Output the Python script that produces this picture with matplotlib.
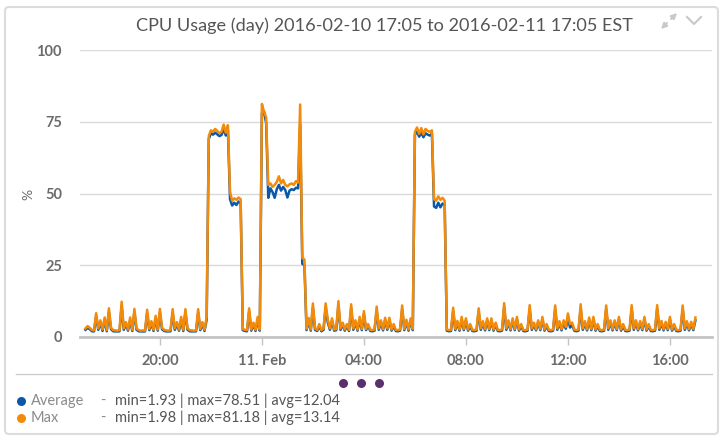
import matplotlib
matplotlib.use("Agg")
import matplotlib.pyplot as plt
from matplotlib.patches import FancyBboxPatch
import pandas as pd

TITLE = "CPU Usage (day) 2016-02-10 17:05 to 2016-02-11 17:05 EST"
START = "2016-02-10 17:05"

# 5 minute samples, one hour per row
max_cpu = [
    3.0, 3.8, 3.2, 2.4, 2.3, 8.3, 3.0, 5.8, 2.6, 6.8, 2.4, 10.0,
    3.2, 2.4, 2.3, 2.2, 2.4, 12.3, 3.0, 5.2, 2.6, 6.8, 2.5, 9.8,
    3.0, 2.4, 2.2, 2.3, 2.2, 9.5, 2.8, 5.5, 2.5, 7.4, 2.6, 9.8,
    3.2, 2.5, 2.3, 2.2, 2.4, 9.7, 3.0, 5.2, 2.6, 7.0, 2.5, 9.7,
    3.0, 2.4, 2.3, 2.2, 2.3, 9.7, 2.8, 5.2, 2.5, 7.0, 70.0, 72.0,
    71.5, 72.5, 71.8, 71.0, 71.5, 74.0, 71.2, 73.8, 50.5, 47.5, 48.3, 47.8,
    48.6, 48.0, 2.8, 2.5, 2.4, 10.0, 2.6, 5.0, 2.5, 7.0, 2.6, 81.2,
    78.5, 76.5, 53.0, 53.5, 52.3, 53.0, 54.0, 56.0, 53.5, 54.7, 53.0, 52.5,
    53.2, 53.5, 53.0, 54.3, 53.8, 81.0, 27.5, 27.0, 2.8, 6.6, 2.6, 11.7,
    3.0, 2.5, 4.5, 2.4, 3.0, 11.7, 6.0, 3.0, 6.5, 2.6, 2.8, 12.5,
    3.0, 5.0, 2.6, 4.5, 2.5, 11.4, 3.0, 5.8, 2.6, 7.0, 2.8, 9.0,
    2.8, 4.5, 2.5, 2.4, 2.6, 10.6, 3.0, 5.8, 2.7, 6.7, 3.0, 6.7,
    2.6, 4.5, 2.5, 2.4, 2.6, 11.0, 2.8, 6.0, 2.6, 6.5, 2.8, 71.5,
    73.0, 70.8, 72.8, 70.6, 72.5, 71.8, 71.5, 72.0, 48.0, 47.5, 49.0, 47.8,
    48.5, 47.5, 2.6, 2.4, 2.5, 10.2, 2.8, 5.6, 2.6, 7.0, 2.8, 6.5,
    2.6, 4.5, 2.5, 2.4, 2.6, 10.0, 3.0, 5.5, 2.7, 6.5, 2.8, 6.5,
    2.6, 5.0, 2.5, 2.4, 2.6, 11.8, 3.0, 5.8, 2.7, 6.5, 2.8, 7.0,
    2.6, 4.5, 2.5, 2.4, 2.6, 11.1, 3.0, 5.0, 2.7, 5.8, 2.8, 7.0,
    2.6, 4.5, 2.5, 2.4, 2.6, 11.0, 3.0, 5.5, 2.7, 5.8, 3.5, 8.2,
    4.5, 5.0, 2.6, 2.4, 2.6, 11.4, 3.0, 5.5, 2.7, 6.8, 2.8, 7.0,
    2.6, 4.5, 2.5, 2.4, 2.6, 11.0, 3.0, 5.8, 2.7, 5.8, 2.8, 7.0,
    2.6, 4.5, 2.5, 2.4, 2.6, 11.1, 3.0, 5.8, 2.7, 5.5, 2.8, 7.0,
    2.6, 4.5, 2.5, 2.4, 2.6, 11.1, 3.0, 5.6, 2.7, 5.3, 2.8, 7.0,
    2.6, 4.5, 2.5, 2.4, 2.6, 11.0, 3.0, 5.5, 2.7, 5.3, 2.8, 6.8,
]

avg_cpu = [
    2.5, 3.2, 2.7, 2.0, 1.95, 7.2, 2.5, 4.9, 2.1, 5.8, 2.0, 8.6,
    2.7, 2.0, 1.95, 1.93, 2.0, 10.8, 2.5, 4.4, 2.2, 5.8, 2.1, 8.5,
    2.5, 2.0, 1.95, 1.96, 1.94, 8.2, 2.4, 4.7, 2.1, 6.4, 2.2, 8.5,
    2.7, 2.1, 1.96, 1.94, 2.0, 8.4, 2.5, 4.4, 2.2, 6.0, 2.1, 8.4,
    2.5, 2.0, 1.95, 1.94, 1.96, 8.4, 2.4, 4.4, 2.1, 6.0, 69.0, 71.0,
    70.5, 71.2, 70.6, 70.0, 70.4, 72.5, 70.2, 72.2, 48.0, 45.8, 46.8, 46.0,
    47.2, 46.5, 2.4, 2.1, 2.0, 8.8, 2.2, 4.3, 2.1, 6.0, 2.2, 78.0,
    78.51, 74.5, 48.5, 51.8, 50.5, 48.5, 51.5, 53.0, 51.0, 52.3, 51.2, 48.6,
    51.0, 51.5, 51.2, 52.0, 51.8, 74.0, 25.5, 25.0, 2.4, 5.6, 2.2, 10.2,
    2.5, 2.1, 3.8, 2.0, 2.5, 10.2, 5.1, 2.5, 5.6, 2.2, 2.4, 11.0,
    2.5, 4.3, 2.2, 3.8, 2.1, 9.9, 2.5, 5.0, 2.2, 6.0, 2.4, 7.8,
    2.4, 3.8, 2.1, 2.0, 2.2, 9.2, 2.5, 5.0, 2.3, 5.8, 2.5, 5.8,
    2.2, 3.8, 2.1, 2.0, 2.2, 9.6, 2.4, 5.1, 2.2, 5.6, 2.4, 70.5,
    71.5, 69.8, 71.2, 69.6, 71.0, 70.5, 70.2, 70.8, 45.5, 45.0, 46.8, 45.2,
    46.5, 46.0, 2.2, 2.0, 2.1, 8.9, 2.4, 4.8, 2.2, 6.0, 2.4, 5.6,
    2.2, 3.8, 2.1, 2.0, 2.2, 8.7, 2.5, 4.7, 2.3, 5.6, 2.4, 5.6,
    2.2, 4.3, 2.1, 2.0, 2.2, 10.3, 2.5, 5.0, 2.3, 5.6, 2.4, 6.0,
    2.2, 3.8, 2.1, 2.0, 2.2, 9.7, 2.5, 4.3, 2.3, 5.0, 2.4, 6.0,
    2.2, 3.8, 2.1, 2.0, 2.2, 9.6, 2.5, 4.7, 2.3, 5.0, 2.9, 6.5,
    3.3, 4.2, 2.2, 2.0, 2.2, 9.9, 2.5, 4.7, 2.3, 5.8, 2.4, 6.0,
    2.2, 3.8, 2.1, 2.0, 2.2, 9.6, 2.5, 5.0, 2.3, 5.0, 2.4, 6.0,
    2.2, 3.8, 2.1, 2.0, 2.2, 9.7, 2.5, 5.0, 2.3, 4.7, 2.4, 6.0,
    2.2, 3.8, 2.1, 2.0, 2.2, 9.7, 2.5, 4.8, 2.3, 4.5, 2.4, 6.0,
    2.2, 3.8, 2.1, 2.0, 2.2, 9.6, 2.5, 4.7, 2.3, 4.5, 2.4, 5.8,
]

y_ticks = [0, 25, 50, 75, 100]
x_ticks = ["2016-02-10 20:00", "2016-02-11 00:00", "2016-02-11 04:00",
           "2016-02-11 08:00", "2016-02-11 12:00", "2016-02-11 16:00"]
x_labels = ["20:00", "11. Feb", "04:00", "08:00", "12:00", "16:00"]
x_range = ["2016-02-10 16:52", "2016-02-11 17:39"]
series_names = ["Average", "Max"]
series_stats = ["min=1.93 | max=78.51 | avg=12.04",
                "min=1.98 | max=81.18 | avg=13.14"]
colors = ["#0d58a6", "#f28a0a"]

plt.rcParams['font.family'] = ['Lato', 'DejaVu Sans']

W, H = 722, 440
fig = plt.figure(figsize=(W / 100, H / 100), dpi=100)
fig.patch.set_facecolor('white')

times = pd.date_range(START, periods=len(max_cpu), freq="5min")

ax = fig.add_axes([80 / W, 1 - 337 / H, 632 / W, 287 / H])
ax.plot(times, avg_cpu, color=colors[0], lw=1.8, solid_joinstyle='round')
ax.plot(times, max_cpu, color=colors[1], lw=1.8, solid_joinstyle='round')

ax.set_ylim(0, 100)
ax.set_xlim(pd.Timestamp(x_range[0]), pd.Timestamp(x_range[1]))
ax.set_yticks(y_ticks)
ax.set_yticklabels([str(t) for t in y_ticks])
ax.set_xticks([pd.Timestamp(t) for t in x_ticks])
ax.set_xticklabels(x_labels)

ax.yaxis.grid(True, color='#d9d9d9', lw=1)
ax.set_axisbelow(True)
for side in ['left', 'right', 'top']:
    ax.spines[side].set_visible(False)
ax.spines['bottom'].set_color('#c4c4c4')
ax.spines['bottom'].set_linewidth(2)
ax.tick_params(axis='y', length=0, pad=13, labelsize=10.5, labelcolor='#6b6b6b')
ax.tick_params(axis='x', length=6, width=1, color='#c4c4c4', pad=6,
               labelsize=10.5, labelcolor='#6b6b6b')
for lab in ax.get_xticklabels() + ax.get_yticklabels():
    lab.set_fontweight('bold')

fig.text(28 / W, 1 - 194 / H, '%', rotation=90, ha='center', va='center',
         fontsize=10, color='#6b6b6b')

# overlay in pixel coordinates for the frame, legend and decorations
ov = fig.add_axes([0, 0, 1, 1])
ov.set_xlim(0, W)
ov.set_ylim(H, 0)
ov.axis('off')

ov.add_patch(FancyBboxPatch((5, 7), 713, 427, boxstyle="round,pad=0,rounding_size=4",
                            fc='none', ec='#dcdcdc', lw=1.5))
ov.text(384, 26, TITLE, ha='center', va='center', fontsize=13.1, color='#555555')

# expand and collapse icons
icon = dict(arrowstyle='-|>', color='#c8c8c8', lw=1.4, mutation_scale=8,
            shrinkA=0, shrinkB=0)
ov.annotate('', xy=(677, 13), xytext=(671, 19), arrowprops=icon)
ov.annotate('', xy=(661, 29), xytext=(667, 23), arrowprops=icon)
ov.plot([687, 694, 701], [17, 24, 17], color='#c8c8c8', lw=1.5)

ov.plot([16, 712], [374, 374], color='#cccccc', lw=1)
ov.plot([343, 361, 379], [383, 383, 383], 'o', color='#5b2e6e', ms=6.5, mec='none')

for k, (name, stats) in enumerate(zip(series_names, series_stats)):
    yy = 401 + 17 * k
    ov.plot([21], [yy], 'o', color=colors[k], ms=6.5, mec='none')
    ov.text(31, yy, name, ha='left', va='center', fontsize=10.5, color='#8a8a8a')
    ov.text(100, yy, '-', ha='left', va='center', fontsize=10.5, color='#8a8a8a')
    ov.text(115, yy, stats, ha='left', va='center', fontsize=10.5, color='#555555')

fig.savefig('out.png', dpi=100)
